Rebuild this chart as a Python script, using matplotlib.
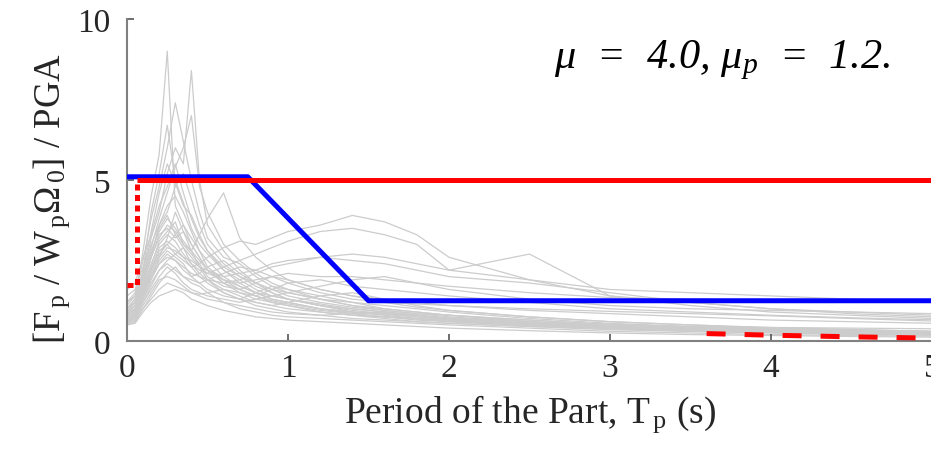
import matplotlib
matplotlib.use("Agg")
import matplotlib.pyplot as plt

plt.rcParams['font.family'] = ['Liberation Serif', 'DejaVu Serif']
plt.rcParams['mathtext.fontset'] = 'custom'
plt.rcParams['mathtext.rm'] = 'Liberation Serif'
plt.rcParams['mathtext.it'] = 'Liberation Serif:italic'
plt.rcParams['mathtext.bf'] = 'Liberation Serif:bold'

# ---------------- data ----------------
periods = [0, 0.05, 0.1, 0.15, 0.2, 0.25, 0.3, 0.35, 0.4, 0.45, 0.5, 0.6, 0.7,
           0.8, 0.9, 1.0, 1.2, 1.4, 1.6, 1.8, 2.0, 2.5, 3.0, 3.5, 4.0, 4.5, 5.0]

spectra = [
    [1.0, 1.3, 2.8, 4.5, 5.8, 9.0, 4.2, 3.6, 3.0, 2.6, 2.2, 1.9, 1.6, 1.4, 1.2, 1.1, 0.9, 0.8, 0.7, 0.6, 0.55, 0.45, 0.35, 0.3, 0.25, 0.2, 0.18],
    [0.9, 1.2, 2.0, 3.2, 4.0, 5.2, 6.0, 5.5, 8.4, 5.0, 3.6, 2.8, 2.2, 1.8, 1.5, 1.3, 1.1, 0.9, 0.8, 0.7, 0.6, 0.5, 0.4, 0.32, 0.27, 0.22, 0.2],
    [1.2, 1.5, 2.5, 3.8, 4.8, 6.0, 7.4, 6.2, 5.0, 4.0, 3.2, 2.6, 2.4, 2.0, 1.7, 1.5, 1.3, 1.1, 0.95, 0.85, 0.75, 0.6, 0.45, 0.4, 0.33, 0.28, 0.25],
    [0.8, 1.1, 2.2, 4.0, 5.2, 6.7, 5.0, 4.3, 3.5, 3.0, 2.7, 2.2, 1.9, 1.6, 1.4, 1.3, 1.1, 0.95, 0.85, 0.75, 0.65, 0.5, 0.4, 0.33, 0.28, 0.24, 0.2],
    [1.1, 1.4, 2.1, 2.9, 3.8, 4.6, 5.4, 6.0, 7.0, 4.8, 4.0, 3.0, 2.5, 2.1, 1.8, 1.6, 1.4, 1.2, 1.0, 0.9, 0.8, 0.65, 0.5, 0.42, 0.35, 0.3, 0.26],
    [1.0, 1.2, 1.8, 2.6, 3.2, 3.6, 3.4, 3.0, 2.8, 3.3, 3.8, 4.6, 3.2, 2.6, 2.2, 1.9, 1.6, 1.4, 1.2, 1.05, 0.95, 0.75, 0.6, 0.5, 0.42, 0.36, 0.3],
    [0.7, 0.9, 1.5, 2.2, 2.8, 3.0, 2.7, 2.5, 2.3, 2.4, 2.6, 2.9, 3.1, 3.0, 3.2, 3.4, 3.6, 3.9, 3.7, 3.3, 2.6, 1.9, 1.4, 1.1, 0.9, 0.8, 0.7],
    [0.8, 1.0, 1.6, 2.4, 3.0, 3.3, 3.1, 2.7, 2.4, 2.2, 2.1, 2.3, 2.5, 2.7, 2.9, 3.1, 3.4, 3.5, 3.3, 3.0, 2.2, 2.7, 1.4, 1.2, 1.0, 0.9, 0.8],
    [0.9, 1.1, 1.7, 2.3, 2.6, 2.9, 2.8, 2.6, 2.5, 2.3, 2.2, 2.0, 2.1, 2.2, 2.4, 2.5, 2.6, 2.7, 2.6, 2.4, 2.2, 1.9, 1.6, 1.5, 1.4, 1.3, 1.2],
    [1.0, 1.2, 1.9, 2.7, 3.5, 3.9, 3.3, 2.9, 2.6, 2.3, 2.1, 1.9, 1.8, 1.9, 2.0, 2.1, 2.0, 2.0, 1.9, 1.8, 1.7, 1.5, 1.35, 1.3, 1.25, 1.25, 1.2],
    [0.6, 0.8, 1.4, 2.0, 2.5, 2.8, 2.6, 2.4, 2.0, 1.8, 1.6, 1.4, 1.3, 1.5, 1.7, 1.6, 1.3, 1.1, 1.0, 0.9, 0.8, 0.6, 0.45, 0.35, 0.3, 0.25, 0.22],
    [0.5, 0.6, 1.0, 1.4, 1.8, 2.1, 2.3, 2.0, 1.8, 1.7, 1.5, 1.2, 1.0, 0.9, 0.8, 0.75, 0.7, 0.65, 0.6, 0.55, 0.5, 0.4, 0.3, 0.25, 0.2, 0.17, 0.15],
    [0.7, 0.9, 1.6, 2.3, 3.1, 3.4, 3.7, 3.0, 2.7, 2.4, 2.0, 1.7, 1.6, 1.8, 2.0, 1.9, 1.6, 1.4, 1.3, 1.2, 1.1, 0.95, 0.85, 0.75, 0.65, 0.6, 0.55],
    [0.6, 0.7, 1.2, 1.7, 2.2, 2.5, 2.7, 2.9, 2.4, 2.1, 1.9, 1.6, 1.4, 1.2, 1.1, 1.2, 1.4, 1.5, 1.3, 1.1, 0.95, 0.75, 0.6, 0.5, 0.4, 0.35, 0.3],
    [0.55, 0.65, 1.1, 1.5, 1.9, 2.0, 1.9, 1.7, 1.5, 1.4, 1.3, 1.2, 1.1, 1.0, 0.9, 0.85, 0.8, 0.85, 0.9, 0.8, 0.7, 0.55, 0.45, 0.35, 0.3, 0.25, 0.22],
    [0.9, 1.1, 1.8, 2.6, 3.6, 4.2, 4.5, 4.0, 3.4, 2.8, 2.3, 1.9, 1.7, 1.5, 1.3, 1.2, 1.0, 0.9, 0.85, 0.8, 0.7, 0.55, 0.42, 0.35, 0.3, 0.26, 0.22],
    [1.4, 1.6, 2.3, 3.0, 3.6, 4.0, 4.8, 5.2, 4.4, 3.6, 3.0, 2.4, 2.0, 1.7, 1.5, 1.3, 1.15, 1.0, 0.9, 0.8, 0.7, 0.55, 0.45, 0.38, 0.32, 0.28, 0.25],
    [0.65, 0.8, 1.3, 1.9, 2.4, 2.6, 2.5, 2.2, 2.0, 2.1, 2.3, 2.5, 2.1, 1.8, 1.6, 1.5, 1.3, 1.2, 1.1, 1.0, 0.9, 0.7, 0.55, 0.45, 0.38, 0.32, 0.28],
    [0.5, 0.55, 0.9, 1.2, 1.4, 1.5, 1.6, 1.5, 1.3, 1.2, 1.1, 0.95, 0.85, 0.75, 0.7, 0.65, 0.6, 0.55, 0.5, 0.45, 0.4, 0.32, 0.25, 0.2, 0.17, 0.14, 0.12],
    [0.75, 0.95, 1.7, 2.6, 3.3, 3.5, 3.2, 3.4, 3.0, 2.6, 2.2, 1.8, 1.5, 1.4, 1.6, 1.8, 1.9, 1.7, 1.6, 1.5, 1.4, 1.2, 1.0, 0.9, 0.8, 0.72, 0.66],
    [1.6, 1.8, 2.6, 3.3, 4.2, 4.8, 5.5, 4.6, 3.8, 3.2, 2.8, 2.2, 1.8, 1.5, 1.3, 1.2, 1.0, 0.85, 0.75, 0.65, 0.6, 0.48, 0.38, 0.3, 0.26, 0.22, 0.2],
    [0.6, 0.75, 1.3, 1.8, 2.2, 2.4, 2.2, 2.0, 1.9, 1.8, 1.9, 2.1, 2.3, 2.2, 2.0, 1.8, 1.5, 1.3, 1.2, 1.15, 1.1, 1.0, 0.92, 0.85, 0.78, 0.7, 0.62],
    [0.85, 1.0, 1.6, 2.2, 2.9, 3.1, 2.9, 2.6, 2.3, 2.0, 1.8, 1.5, 1.3, 1.2, 1.1, 1.0, 0.9, 0.8, 0.75, 0.7, 0.65, 0.55, 0.5, 0.45, 0.42, 0.4, 0.38],
    [0.7, 0.85, 1.5, 2.1, 2.7, 3.0, 3.3, 3.6, 3.2, 2.8, 2.5, 2.0, 1.7, 1.5, 1.4, 1.5, 1.7, 1.9, 2.0, 1.8, 1.6, 1.3, 1.1, 1.0, 0.95, 0.9, 0.85],
    [0.55, 0.7, 1.2, 1.6, 2.0, 2.3, 2.1, 1.8, 1.6, 1.5, 1.4, 1.3, 1.2, 1.3, 1.4, 1.3, 1.1, 1.0, 0.9, 0.8, 0.72, 0.6, 0.5, 0.42, 0.36, 0.31, 0.27],
    [1.2, 1.4, 2.0, 2.8, 3.4, 3.8, 3.5, 3.1, 2.8, 2.5, 2.2, 1.8, 1.6, 1.4, 1.25, 1.15, 1.0, 0.9, 0.82, 0.75, 0.68, 0.55, 0.43, 0.36, 0.3, 0.26, 0.23],
    [0.8, 1.0, 1.5, 2.0, 2.4, 2.7, 2.5, 2.3, 2.1, 2.0, 1.9, 1.8, 1.9, 2.1, 2.3, 2.4, 2.6, 2.5, 2.4, 2.2, 2.0, 1.8, 1.5, 1.2, 1.0, 0.85, 0.75],
    [0.65, 0.8, 1.4, 2.0, 2.6, 3.2, 4.0, 3.4, 2.8, 2.3, 1.9, 1.5, 1.3, 1.1, 1.0, 0.9, 0.8, 0.7, 0.65, 0.6, 0.55, 0.45, 0.38, 0.32, 0.27, 0.23, 0.2],
    [1.0, 1.3, 2.2, 3.4, 4.6, 5.5, 4.9, 4.2, 3.9, 3.3, 2.8, 2.3, 2.0, 1.8, 1.6, 1.4, 1.2, 1.05, 0.95, 0.85, 0.8, 0.65, 0.52, 0.44, 0.38, 0.33, 0.3],
    [0.5, 0.6, 1.0, 1.3, 1.6, 1.8, 1.7, 1.6, 1.5, 1.45, 1.5, 1.6, 1.5, 1.3, 1.2, 1.1, 0.95, 0.85, 0.75, 0.68, 0.62, 0.5, 0.4, 0.34, 0.29, 0.25, 0.22],
]

blue_T = [0.0, 0.75, 1.5, 5.0]
blue_F = [5.1, 5.1, 1.25, 1.25]

red_T = [0.06, 5.0]
red_F = [5.0, 5.0]

red_dot_T = [0.0, 0.06, 0.06]
red_dot_F = [1.75, 1.75, 5.0]

red_dash_T = [3.6, 4.0, 4.5, 5.0]
red_dash_F = [0.23, 0.18, 0.13, 0.09]

xticks = [0, 1, 2, 3, 4, 5]
yticks = [0, 5, 10]

# ---------------- figure ----------------
fig = plt.figure(figsize=(9.31, 4.56), dpi=100)
ax = fig.add_axes([127 / 931, 114 / 456, 805 / 931, 322 / 456])

for row in spectra:
    ax.plot(periods, row, color='#cccccc', lw=0.9, zorder=1)

ax.plot(blue_T, blue_F, color='#0000ff', lw=3.6, zorder=3, solid_capstyle='butt')
ax.plot(red_T, red_F, color='#ff0000', lw=3.6, zorder=4, solid_capstyle='butt')
ax.plot(red_dot_T, red_dot_F, color='#ff0000', lw=3.6, zorder=4,
        dashes=(1.2, 0.9), dash_capstyle='butt')
ax.plot(red_dash_T, red_dash_F, color='#ff0000', lw=3.6, zorder=4,
        dashes=(3.8, 3.8), dash_capstyle='butt')

ax.set_xlim(0, 5)
ax.set_ylim(0, 10)
ax.set_xticks(xticks)
ax.set_yticks(yticks)
ax.tick_params(direction='in', length=5, width=1.2, colors='#555555',
               labelcolor='#262626', labelsize=24)
ax.tick_params(axis='y', pad=12)
ax.tick_params(axis='x', pad=8)
for s in ['top', 'right']:
    ax.spines[s].set_visible(False)
for s in ['left', 'bottom']:
    ax.spines[s].set_color('#808080')
    ax.spines[s].set_linewidth(1.5)

ax.set_xlabel(r'Period of the Part, T$_{\,\mathrm{p}}$ (s)', fontsize=27,
              color='#262626', labelpad=7)
ax.set_ylabel(r'[F$_{\,\mathrm{p}}$ / W$_{\,\mathrm{p}}$$\Omega_{\,\mathrm{0}}$] / PGA',
              fontsize=26.5, color='#262626')
ax.yaxis.set_label_coords(-0.068, 0.445)

ax.text(0.948, 0.851, r'μ  =  4.0, μ$_p$  =  1.2.',
        transform=ax.transAxes, ha='right', va='baseline', fontsize=30.5,
        fontstyle='italic', color='black')

fig.savefig('out.png', dpi=100)
